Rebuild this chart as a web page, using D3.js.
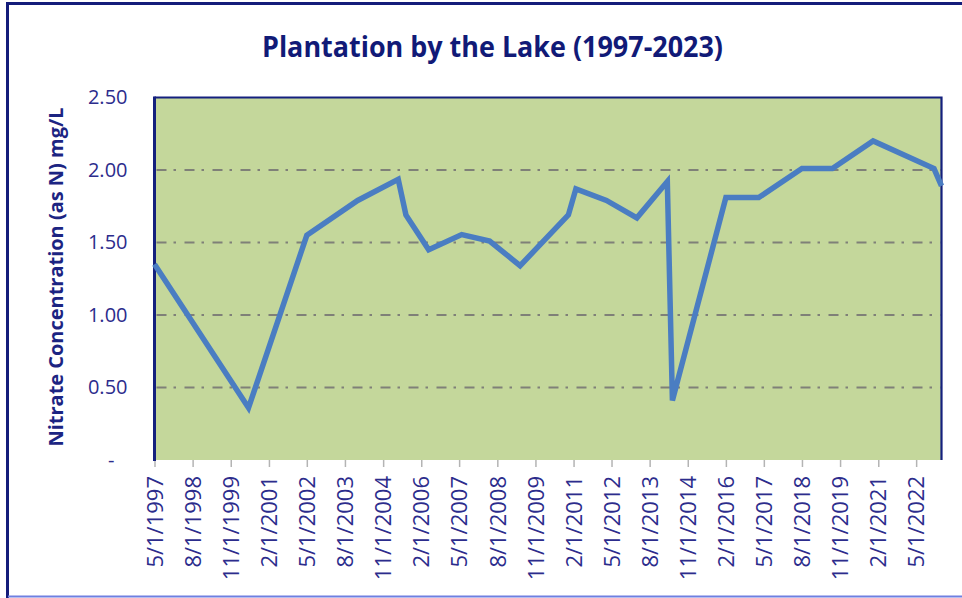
<!DOCTYPE html>
<html>
<head>
<meta charset="utf-8">
<script src="https://cdn.jsdelivr.net/npm/d3@7"></script>
<style>
  html, body { margin: 0; padding: 0; background: #ffffff; }
  svg { display: block; }
</style>
</head>
<body>
<svg id="chart" width="962" height="598"></svg>
<script>
// Nitrate sampling dates (M/D/YYYY) and concentrations, mg/L as N
const sampleDates = [
  "5/1/1997", "6/1/2000", "5/1/2002", "1/1/2004", "5/1/2005", "8/1/2005",
  "5/1/2006", "6/1/2007", "5/1/2008", "5/1/2009", "12/1/2010", "3/1/2011",
  "3/1/2012", "3/1/2013", "3/1/2014", "5/1/2014", "2/1/2016", "3/1/2017",
  "8/1/2018", "8/1/2019", "12/1/2020", "12/1/2022", "3/1/2023"
];
const nitrateValues = [
  1.35, 0.36, 1.55, 1.79, 1.935, 1.69,
  1.45, 1.555, 1.51, 1.34, 1.69, 1.87,
  1.79, 1.67, 1.92, 0.41, 1.81, 1.81,
  2.01, 2.01, 2.20, 2.01, 1.89
];

// Axis labels
const xTickLabels = [
  "5/1/1997", "8/1/1998", "11/1/1999", "2/1/2001", "5/1/2002", "8/1/2003",
  "11/1/2004", "2/1/2006", "5/1/2007", "8/1/2008", "11/1/2009", "2/1/2011",
  "5/1/2012", "8/1/2013", "11/1/2014", "2/1/2016", "5/1/2017", "8/1/2018",
  "11/1/2019", "2/1/2021", "5/1/2022"
];
const xDomainLabels = ["5/1/1997", "3/1/2023"];
const yTickValues = [0, 0.5, 1.0, 1.5, 2.0, 2.5];
const titleText = "Plantation by the Lake (1997-2023)";
const yTitleText = "Nitrate Concentration (as N) mg/L";

const parseDate = d3.utcParse("%m/%d/%Y");
const data = sampleDates.map((d, i) => ({ date: parseDate(d), value: nitrateValues[i] }));
const tickDates = xTickLabels.map(parseDate);
const labelByTime = new Map(tickDates.map((d, i) => [+d, xTickLabels[i]]));

const svg = d3.select("#chart");

const plot = { left: 154.5, right: 941.5, top: 97.5, bottom: 460 };

const x = d3.scaleUtc()
  .domain(xDomainLabels.map(parseDate))
  .range([plot.left, plot.right]);
const y = d3.scaleLinear()
  .domain([0, 2.5])
  .range([plot.bottom, plot.top]);

const navy = "#14207e";
const tickText = "#2c2c8c";

// Outer chart frame
svg.append("path")
  .attr("d", "M7.5,598 L7.5,3.5 L962,3.5")
  .attr("fill", "none")
  .attr("stroke", "#141c7a")
  .attr("stroke-width", 3);
svg.append("line")
  .attr("x1", 8).attr("x2", 962)
  .attr("y1", 596.5).attr("y2", 596.5)
  .attr("stroke", "#6f7fe0")
  .attr("stroke-width", 2);

// Title
svg.append("text")
  .attr("x", 262)
  .attr("y", 57)
  .attr("textLength", 461)
  .attr("lengthAdjust", "spacingAndGlyphs")
  .style("font-family", "'Open Sans', sans-serif")
  .style("font-weight", 700)
  .style("font-size", "29px")
  .attr("fill", "#111a77")
  .text(titleText);

// Plot background
svg.append("rect")
  .attr("x", plot.left)
  .attr("y", plot.top)
  .attr("width", plot.right - plot.left)
  .attr("height", plot.bottom - plot.top)
  .attr("fill", "#c4d79b");

// Horizontal gridlines (dash-dot)
svg.append("g")
  .selectAll("line")
  .data(yTickValues.filter(v => v > 0 && v < 2.5))
  .join("line")
  .attr("x1", plot.left + 2)
  .attr("x2", plot.right)
  .attr("y1", d => y(d))
  .attr("y2", d => y(d))
  .attr("stroke", "#7f8078")
  .attr("stroke-width", 2.2)
  .attr("stroke-dasharray", "10,7,2.5,8.5");

// Top and right plot borders
svg.append("path")
  .attr("d", `M${plot.left},${plot.top} L${plot.right},${plot.top} L${plot.right},${plot.bottom}`)
  .attr("fill", "none")
  .attr("stroke", navy)
  .attr("stroke-width", 2.2);

// X axis
const xAxis = d3.axisBottom(x)
  .tickValues(tickDates)
  .tickSize(7)
  .tickFormat(d => labelByTime.get(+d));
const gx = svg.append("g")
  .attr("transform", `translate(0,${plot.bottom})`)
  .call(xAxis);
gx.select(".domain").remove();
gx.selectAll(".tick line")
  .attr("stroke", "#b4b4b4")
  .attr("stroke-width", 1.5);
gx.selectAll(".tick text")
  .attr("transform", "rotate(-90)")
  .attr("x", -16)
  .attr("y", 0)
  .attr("dy", "0.35em")
  .attr("text-anchor", "end")
  .style("font-family", "'Open Sans', sans-serif")
  .style("font-size", "22px")
  .attr("fill", tickText);

// Y axis
const yAxis = d3.axisLeft(y)
  .tickValues(yTickValues)
  .tickSize(0)
  .tickPadding(27)
  .tickFormat(d => d === 0 ? "-" : d.toFixed(2));
const gy = svg.append("g")
  .attr("transform", `translate(${plot.left},0)`)
  .call(yAxis);
gy.select(".domain").remove();
gy.selectAll(".tick text")
  .style("font-family", "'Open Sans', sans-serif")
  .style("font-size", "20px")
  .attr("fill", tickText);
gy.selectAll(".tick")
  .filter(d => d === 0)
  .select("text")
  .attr("x", -40);

// Left axis line
svg.append("line")
  .attr("x1", plot.left).attr("x2", plot.left)
  .attr("y1", plot.top - 1).attr("y2", plot.bottom + 1)
  .attr("stroke", navy)
  .attr("stroke-width", 3);

// Y axis title
svg.append("text")
  .attr("transform", "translate(63,277) rotate(-90)")
  .attr("text-anchor", "middle")
  .attr("textLength", 339)
  .attr("lengthAdjust", "spacingAndGlyphs")
  .style("font-family", "'Open Sans', sans-serif")
  .style("font-weight", 700)
  .style("font-size", "19px")
  .attr("fill", "#1c2482")
  .text(yTitleText);

// Nitrate line
const line = d3.line()
  .x(d => x(d.date))
  .y(d => y(d.value));

svg.append("path")
  .datum(data)
  .attr("d", line)
  .attr("fill", "none")
  .attr("stroke", "#4a7dc2")
  .attr("stroke-width", 5.5)
  .attr("stroke-linejoin", "miter")
  .attr("stroke-miterlimit", 6)
  .attr("stroke-linecap", "butt");
</script>
</body>
</html>
